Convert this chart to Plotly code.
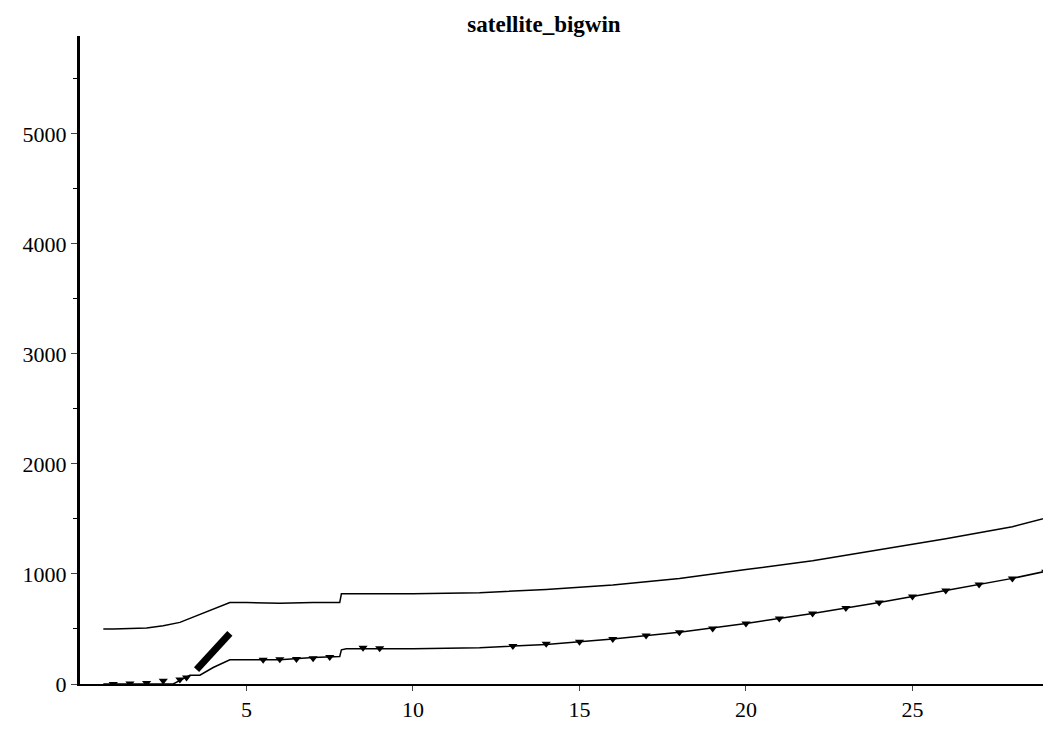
import plotly.graph_objects as go

upper_x = [0.7, 1, 2, 2.5, 3, 3.5, 4, 4.5, 5, 6, 7, 7.8, 7.85, 8, 10, 12, 14, 16, 18, 20, 22, 24, 26, 28, 29.4]
upper_y = [500, 500, 510, 530, 560, 620, 680, 740, 740, 735, 740, 740, 820, 820, 820, 830, 860, 900, 960, 1040, 1120, 1220, 1320, 1430, 1540]
lower_x = [0.7, 2, 2.8, 3.3, 3.6, 4, 4.5, 5, 6, 7, 7.8, 7.85, 8, 10, 12, 14, 16, 18, 20, 22, 24, 26, 28, 29.4]
lower_y = [0, 0, 0, 80, 80, 150, 220, 220, 220, 240, 250, 310, 320, 320, 330, 360, 410, 470, 550, 640, 740, 850, 960, 1050]
mark_x = [1, 1.5, 2, 2.5, 3, 3.2, 5.5, 6, 6.5, 7, 7.5, 8.5, 9, 13, 14, 15, 16, 17, 18, 19, 20, 21, 22, 23, 24, 25, 26, 27, 28, 29]
mark_y = [0, 5, 10, 30, 40, 60, 220, 225, 228, 235, 245, 330, 325, 345, 365, 385, 410, 440, 470, 505, 550, 595, 640, 690, 740, 795, 850, 905, 960, 1020]
diag_x = [3.5, 4.5]
diag_y = [130, 460]

fig = go.Figure()
fig.add_trace(go.Scatter(x=upper_x, y=upper_y, mode="lines", line=dict(color="black", width=1.5)))
fig.add_trace(go.Scatter(x=lower_x, y=lower_y, mode="lines", line=dict(color="black", width=1.5)))
fig.add_trace(go.Scatter(x=mark_x, y=mark_y, mode="markers",
                         marker=dict(symbol="triangle-down", size=8, color="black")))
fig.add_trace(go.Scatter(x=diag_x, y=diag_y, mode="lines", line=dict(color="black", width=7)))

fig.update_layout(
    width=1051, height=744, showlegend=False,
    paper_bgcolor="white", plot_bgcolor="white",
    margin=dict(l=72, r=0, t=28, b=68),
    title=dict(text="<b>satellite_bigwin</b>", x=0.51, xanchor="center", y=0.99, yanchor="top",
               font=dict(family="Liberation Serif", size=23, color="black")),
    font=dict(family="Liberation Serif", size=22, color="black"),
)
fig.update_xaxes(range=[0, 29.4], tickvals=[5, 10, 15, 20, 25], ticks="outside", ticklen=5,
                 showgrid=False, zeroline=False, showline=True, linecolor="black", linewidth=2)
fig.update_yaxes(range=[0, 5890], tickvals=[0, 1000, 2000, 3000, 4000, 5000], ticks="outside", ticklen=6,
                 minor=dict(tickvals=[500, 1500, 2500, 3500, 4500, 5500], ticks="outside", ticklen=4, tickcolor="black"),
                 showgrid=False, zeroline=False, showline=True, linecolor="black", linewidth=3)
fig.write_html("out.html")
